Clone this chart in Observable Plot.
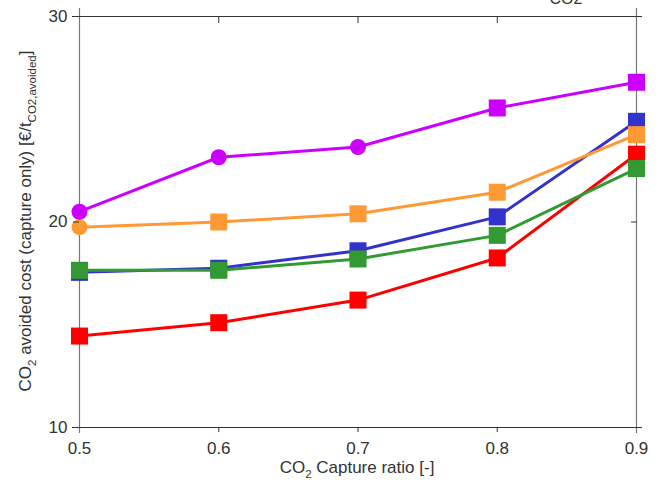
<!DOCTYPE html>
<html><head><meta charset="utf-8">
<script src="https://cdn.jsdelivr.net/npm/d3@7"></script>
<script src="https://cdn.jsdelivr.net/npm/@observablehq/plot@0.6"></script>
<style>
body{margin:0;background:#fff;}
#chart{position:relative;width:662px;height:480px;overflow:hidden;}
#chart svg{font-family:"Liberation Sans",Arial,sans-serif;}
</style>
</head><body><div id="chart"></div>
<script>
// ---- data ----
const captureRatio = [0.5, 0.6, 0.7, 0.8, 0.9];
const magentaCost = [20.5, 23.15, 23.65, 25.55, 26.8];
const orangeCost  = [19.75, 20.0, 20.4, 21.45, 24.25];
const blueCost    = [17.55, 17.75, 18.6, 20.25, 24.9];
const greenCost   = [17.65, 17.65, 18.2, 19.35, 22.6];
const redCost     = [14.45, 15.1, 16.2, 18.25, 23.3];
const magentaMarkers = ["circle", "circle", "circle", "square", "square"];
const orangeMarkers  = ["circle", "square", "square", "square", "square"];
const squareMarkers  = ["square", "square", "square", "square", "square"];
const xTicks = [0.5, 0.6, 0.7, 0.8, 0.9];
const xInnerTicks = [0.6, 0.7, 0.8];
const yTicks = [10, 20, 30];
const yInnerTicks = [20];
const xDomain = [0.5, 0.9];
const yDomain = [10, 30];
const xLabel = "Capture ratio [-]";
const cornerText = "CO2";

// draw order (back to front)
const series = [
  {name: "red", values: redCost, markers: squareMarkers, color: "#ff0000"},
  {name: "blue", values: blueCost, markers: squareMarkers, color: "#3333cc"},
  {name: "green", values: greenCost, markers: squareMarkers, color: "#339933"},
  {name: "orange", values: orangeCost, markers: orangeMarkers, color: "#ff9933"},
  {name: "magenta", values: magentaCost, markers: magentaMarkers, color: "#cc00ff"}
];

const marks = [];
// frame
marks.push(Plot.ruleX(xDomain, {stroke: "#777", strokeWidth: 1.2, insetTop: -8, insetBottom: -6}));
marks.push(Plot.ruleY(yDomain, {stroke: "#333", strokeWidth: 1.2, insetLeft: -7, insetRight: -6}));

for (const s of series) {
  const rows = captureRatio.map((x, i) => ({x, y: s.values[i], m: s.markers[i]}));
  marks.push(Plot.line(rows, {x: "x", y: "y", stroke: s.color, strokeWidth: 3}));
  marks.push(Plot.dot(rows.filter(d => d.m === "circle"), {x: "x", y: "y", r: 8, fill: s.color, symbol: "circle"}));
  marks.push(Plot.dot(rows.filter(d => d.m === "square"), {x: "x", y: "y", r: 9.6, fill: s.color, symbol: "square"}));
}

// axes
marks.push(Plot.axisX(xTicks, {anchor: "bottom", tickSize: 0, tickPadding: 14, fontSize: 17, fill: "#333", label: null, tickFormat: d3.format(".1f")}));
marks.push(Plot.axisX(xInnerTicks, {anchor: "bottom", tickSize: 5, stroke: "#333", tickFormat: () => "", label: null}));
marks.push(Plot.axisX(xInnerTicks, {anchor: "top", tickSize: -6, stroke: "#333", tickFormat: () => "", label: null}));
marks.push(Plot.axisY(yTicks, {anchor: "left", tickSize: 6, tickPadding: 6, fontSize: 17, fill: "#333", stroke: "#333", label: null}));
marks.push(Plot.axisY(yInnerTicks, {anchor: "right", tickSize: -6, stroke: "#333", tickFormat: () => "", label: null}));

const chart = Plot.plot({
  width: 662,
  height: 480,
  marginLeft: 79,
  marginRight: 26,
  marginTop: 16,
  marginBottom: 53,
  x: {domain: xDomain},
  y: {domain: yDomain},
  style: {fontFamily: "'Liberation Sans', Arial, sans-serif", overflow: "visible", background: "#fff"},
  marks
});
document.getElementById("chart").appendChild(chart);

const svg = d3.select(chart);
// y label with subscripts
const yl = svg.append("text")
  .attr("transform", "translate(31,221) rotate(-90)")
  .attr("text-anchor", "middle")
  .attr("font-size", 17)
  .attr("fill", "#333");
yl.append("tspan").text("CO");
yl.append("tspan").attr("font-size", 11.5).attr("dy", 5).text("2");
yl.append("tspan").attr("dy", -5).text(" avoided cost (capture only) [€/t");
yl.append("tspan").attr("font-size", 11.5).attr("dy", 5).text("CO2,avoided");
yl.append("tspan").attr("dy", -5).text("]");

// x label with subscript
const xl = svg.append("text")
  .attr("x", 357).attr("y", 473)
  .attr("text-anchor", "middle")
  .attr("font-size", 17)
  .attr("fill", "#333");
xl.append("tspan").text("CO");
xl.append("tspan").attr("font-size", 11.5).attr("dy", 5).text("2");
xl.append("tspan").attr("dy", -5).text(" " + xLabel);

// clipped corner text at the top (cut off by the edge, as in the reference)
svg.append("text")
  .attr("x", 566).attr("y", 4)
  .attr("text-anchor", "middle")
  .attr("font-size", 16)
  .attr("fill", "#333")
  .text(cornerText);
</script>
</body></html>
